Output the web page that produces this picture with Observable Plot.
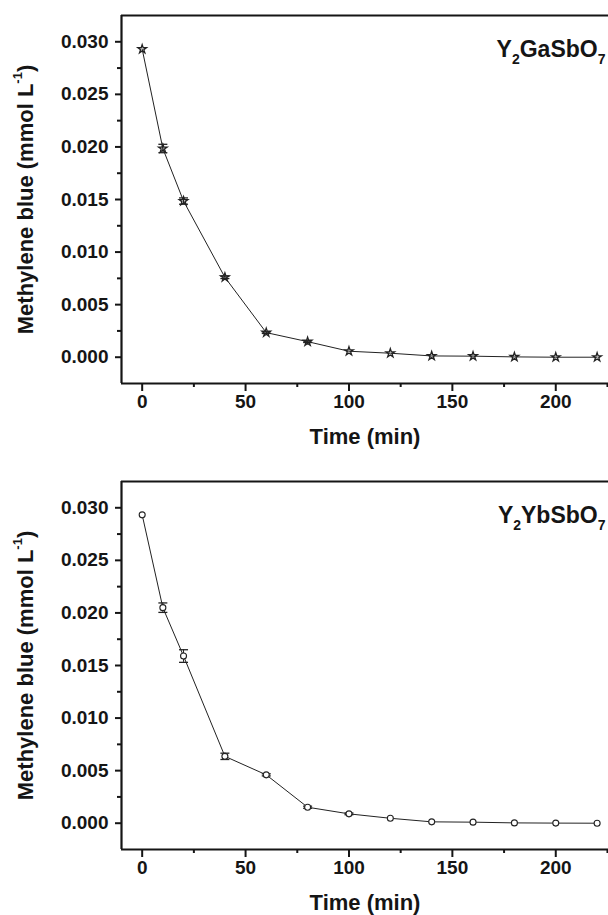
<!DOCTYPE html>
<html>
<head>
<meta charset="utf-8">
<script src="https://cdn.jsdelivr.net/npm/d3@7"></script>
<script src="https://cdn.jsdelivr.net/npm/@observablehq/plot@0.6"></script>
<style>
  html, body { margin: 0; padding: 0; background: #fff; }
  svg { display: block; }
</style>
</head>
<body>
<div id="chart"></div>
<script>
// ---- data ----
const times = [0, 10, 20, 40, 60, 80, 100, 120, 140, 160, 180, 200, 220];
const gaValues = [0.0293, 0.01985, 0.01485, 0.0076, 0.00234, 0.00148, 0.00057, 0.00038, 0.00012, 0.0001, 0.00003, 0.0, 0.0];
const gaErrors = [0, 0.0004, 0.0003, 0.00012, 0.00008, 0.00008, 0, 0, 0, 0, 0, 0, 0];
const ybValues = [0.02933, 0.0205, 0.0159, 0.00636, 0.0046, 0.00152, 0.00089, 0.00047, 0.00013, 0.0001, 0.00003, 0.00001, 0.0];
const ybErrors = [0, 0.00045, 0.0006, 0.0003, 0.0001, 0.0001, 0.00008, 0, 0, 0, 0, 0, 0];
const compoundNames = ["Y_{2}GaSbO_{7}", "Y_{2}YbSbO_{7}"];
const xTicks = [0, 50, 100, 150, 200];
const xMinorTicks = [25, 75, 125, 175, 225];
const yTicks = [0, 0.005, 0.01, 0.015, 0.02, 0.025, 0.03];
const yMinorTicks = [0.0025, 0.0075, 0.0125, 0.0175, 0.0225, 0.0275];
const xLabel = "Time (min)";
const yLabel = "Methylene blue (mmol L^{-1})";
const xDomain = [-10, 225.5];
const yDomain = [-0.0025, 0.0325];

// horizontal cap symbol for error bars
const capSymbol = {
  draw(ctx, size) {
    const w = Math.sqrt(size / Math.PI);
    ctx.moveTo(-w, 0);
    ctx.lineTo(w, 0);
  }
};

function richText(el, smallSize) {
  const s = el.textContent;
  el.textContent = "";
  const re = /(_\{[^}]*\}|\^\{[^}]*\})/;
  const parts = s.split(re).filter(p => p.length);
  let shift = 0;
  const sel = d3.select(el);
  for (const p of parts) {
    const ts = sel.append("tspan");
    if (p.startsWith("_{")) {
      const d = 0.3 * smallSize / 0.62;
      ts.text(p.slice(2, -1)).attr("font-size", smallSize).attr("dy", d - shift);
      shift = d;
    } else if (p.startsWith("^{")) {
      const d = -0.55 * smallSize / 0.62;
      ts.text(p.slice(2, -1)).attr("font-size", smallSize).attr("dy", d - shift);
      shift = d;
    } else {
      ts.text(p);
      if (shift !== 0) { ts.attr("dy", -shift); shift = 0; }
    }
  }
}

function makePanel(values, errors, symbol, fill, name, height, marginTop, marginBottom) {
  const data = times.map((t, i) => ({t, v: values[i], e: errors[i], lo: values[i] - errors[i], hi: values[i] + errors[i]}));
  const withErr = data.filter(d => d.e > 0);
  const svg = Plot.plot({
    width: 608,
    height,
    marginTop,
    marginBottom,
    marginLeft: 121,
    marginRight: 0,
    style: {fontFamily: "'Liberation Sans', Arial, sans-serif", fontWeight: "bold", color: "#151515", background: "white", overflow: "visible"},
    x: {domain: xDomain},
    y: {domain: yDomain},
    marks: [
      Plot.axisX(xTicks, {tickSize: 8, tickPadding: 3, fontSize: 19, strokeWidth: 2, label: xLabel, labelAnchor: "center", labelOffset: 60, labelArrow: false}),
      Plot.axisX(xMinorTicks, {tickSize: 4, strokeWidth: 2, tickFormat: () => "", label: null}),
      Plot.axisY(yTicks, {tickSize: 6, tickPadding: 7, fontSize: 19, strokeWidth: 2, tickFormat: d3.format(".3f"), label: yLabel, labelAnchor: "center", labelOffset: 104, labelArrow: false}),
      Plot.axisY(yMinorTicks, {tickSize: 4, strokeWidth: 2, tickFormat: () => "", label: null}),
      Plot.ruleX([xDomain[0]], {strokeWidth: 2.2, stroke: "#151515"}),
      Plot.ruleY([yDomain[0]], {strokeWidth: 2.2, stroke: "#151515"}),
      Plot.ruleY([yDomain[1]], {strokeWidth: 2.2, stroke: "#151515"}),
      Plot.line(data, {x: "t", y: "v", stroke: "#222", strokeWidth: 1}),
      Plot.ruleX(withErr, {x: "t", y1: "lo", y2: "hi", stroke: "#222", strokeWidth: 1}),
      Plot.dot(withErr, {x: "t", y: "lo", symbol: capSymbol, r: 4.5, fill: "none", stroke: "#222", strokeWidth: 1.3}),
      Plot.dot(withErr, {x: "t", y: "hi", symbol: capSymbol, r: 4.5, fill: "none", stroke: "#222", strokeWidth: 1.3}),
      Plot.dot(data, {x: "t", y: "v", symbol, r: symbol === "star" ? 2.7 : 3, fill, stroke: "#222", strokeWidth: symbol === "star" ? 1.3 : 1.1}),
      Plot.text([name], {frameAnchor: "top-right", textAnchor: "end", dx: -3, dy: 25, fontSize: 23, fontWeight: "bold", fill: "#151515"})
    ]
  });
  d3.select(svg).selectAll("text").each(function () {
    const t = this.textContent;
    if (t.includes("_{")) richText(this, 14);
    else if (t.includes("^{")) { richText(this, 13); d3.select(this).attr("font-size", 22); }
    else if (t === xLabel) d3.select(this).attr("font-size", 22);
  });
  return svg;
}

const chart = document.getElementById("chart");
chart.appendChild(makePanel(gaValues, gaErrors, "star", "none", compoundNames[0], 466, 15, 83));
chart.appendChild(makePanel(ybValues, ybErrors, "circle", "white", compoundNames[1], 449, 15, 66));
</script>
</body>
</html>
